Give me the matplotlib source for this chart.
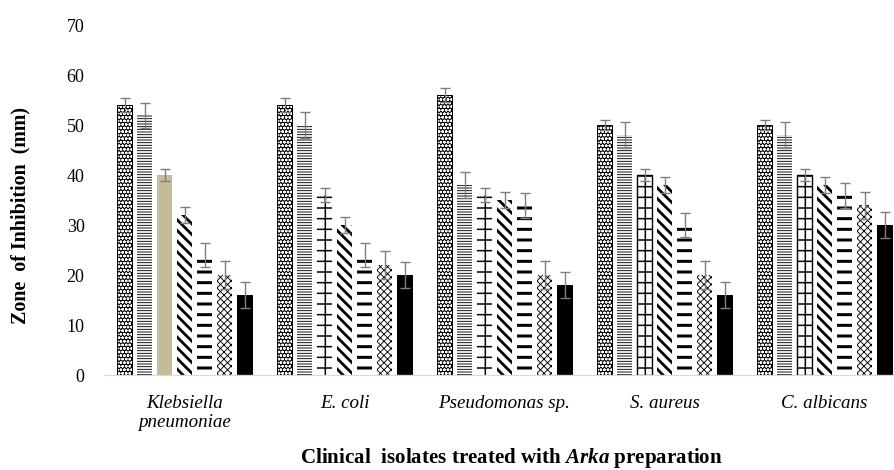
import matplotlib
matplotlib.use("Agg")
import matplotlib.pyplot as plt
import numpy as np

# data
isolates = ["Klebsiella\npneumoniae", "E. coli", "Pseudomonas sp.", "S. aureus", "C. albicans"]
yticks = [0, 10, 20, 30, 40, 50, 60, 70]

# one list per treatment (7 treatments, 5 isolates each)
t1 = [54, 54, 56, 50, 50]
t2 = [52, 50, 38, 48, 48]
t3 = [40, 36, 36, 40, 40]
t4 = [32, 30, 35, 38, 38]
t5 = [24, 24, 34, 30, 36]
t6 = [20, 22, 20, 20, 34]
t7 = [16, 20, 18, 16, 30]

e1 = [1.4, 1.4, 1.4, 1.0, 1.0]
e2 = [2.5, 2.6, 2.6, 2.6, 2.6]
e3 = [1.2, 1.4, 1.4, 1.2, 1.2]
e4 = [1.6, 1.6, 1.6, 1.6, 1.6]
e5 = [2.4, 2.4, 2.5, 2.4, 2.5]
e6 = [2.8, 2.8, 2.8, 2.8, 2.7]
e7 = [2.6, 2.6, 2.6, 2.6, 2.6]

values = [t1, t2, t3, t4, t5, t6, t7]
errors = [e1, e2, e3, e4, e5, e6, e7]

DPI = 64
W, H = 894, 470


def px(v):
    """pixels -> points at this dpi"""
    return v * 72.0 / DPI


plt.rcParams['font.family'] = ['Liberation Serif', 'DejaVu Serif']
plt.rcParams['mathtext.fontset'] = 'custom'
plt.rcParams['mathtext.it'] = 'Liberation Serif:italic:bold'
plt.rcParams['mathtext.rm'] = 'Liberation Serif:bold'

fig = plt.figure(figsize=(W / DPI, H / DPI), dpi=DPI)
ax = fig.add_axes([104.5 / W, (H - 375) / H, 800 / W, 350 / H])

x = np.arange(len(isolates))
pitch = 0.125
width = 0.094

# (hatch, hatch linewidth px, face, hatch colour, outline)
styles = [
    ("ooo", 1.1, "black", "white", True),
    ("----", 0.9, "white", "black", False),
    ("+", 1.5, "white", "black", False),
    ("\\\\", 2.8, "white", "black", False),
    ("-", 3.0, "white", "black", False),
    ("xxx", 0.9, "white", "black", False),
    (None, 1.0, "black", "black", True),
]


def hatched_bar(xpos, h, hatch, hlw, face, hcol, outline, edge_lw=0.0):
    with plt.rc_context({'hatch.linewidth': px(hlw), 'hatch.color': hcol}):
        bars = ax.bar(xpos, h, width, color=face, edgecolor=hcol,
                      hatch=hatch, linewidth=0)
    for b in bars:
        if hasattr(b, "set_hatch_linewidth"):
            b.set_hatch_linewidth(px(hlw))
    if outline or edge_lw > 0:
        ax.bar(xpos, h, width, fill=False, edgecolor="black",
               linewidth=px(edge_lw if edge_lw > 0 else 1.0))
    return bars


for j, (vals, errs) in enumerate(zip(values, errors)):
    hatch, hlw, face, hcol, outline = styles[j]
    xpos = x + (j - 3) * pitch
    vals = np.array(vals, dtype=float)
    if j == 2:
        # Klebsiella gets a plain tan bar, the rest a cross pattern
        ax.bar(xpos[0], vals[0], width, color="#c5bb98", linewidth=0)
        hatched_bar(xpos[1:3], vals[1:3], hatch, hlw, face, hcol, False)
        hatched_bar(xpos[3:], vals[3:], hatch, hlw, face, hcol, False, edge_lw=1.4)
    else:
        hatched_bar(xpos, vals, hatch, hlw, face, hcol, outline)
    ax.errorbar(xpos, vals, yerr=errs, fmt="none", ecolor="#7f7f7f",
                elinewidth=px(1.4), capsize=px(5), capthick=px(1.4))

ax.set_xlim(-0.5, 4.5)
ax.set_ylim(0, 70)
ax.set_yticks(yticks)
ax.set_xticks(x)
ax.set_xticklabels(isolates, fontstyle="italic", fontsize=px(19), linespacing=1.15)
ax.tick_params(axis="x", length=0, pad=px(20))
ax.tick_params(axis="y", length=0, pad=px(20), labelsize=px(18))

for side in ["left", "right", "top"]:
    ax.spines[side].set_visible(False)
ax.spines["bottom"].set_color("#d9d9d9")
ax.spines["bottom"].set_linewidth(px(1.3))

fig.text(20 / W, 1 - 215 / H, "Zone  of Inhibition  (mm)", rotation=90,
         ha="center", va="center", fontsize=px(20), fontweight="bold")
fig.text(511 / W, 1 - 458 / H,
         r"Clinical  isolates treated with $\mathit{Arka}$ preparation",
         ha="center", va="center", fontsize=px(21), fontweight="bold")

fig.savefig("out.png", dpi=DPI)
